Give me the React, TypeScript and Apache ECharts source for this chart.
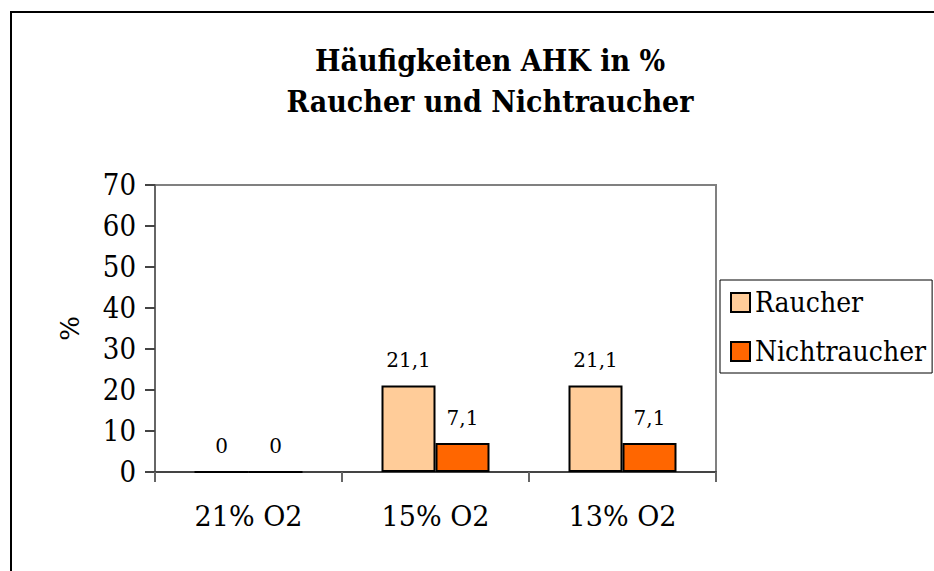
import React, { useEffect, useRef } from "react";
import * as echarts from "echarts";

const categories = ["21% O2", "15% O2", "13% O2"];
const raucher = [0, 21.1, 21.1];
const nichtraucher = [0, 7.1, 7.1];
const seriesNames = ["Raucher", "Nichtraucher"];
const titleText = "Häufigkeiten AHK in %\nRaucher und Nichtraucher";

const FONT = "DejaVu Serif Condensed";

export default function App() {
  const ref = useRef<HTMLDivElement>(null);
  useEffect(() => {
    if (!ref.current) return;
    const chart = echarts.init(ref.current, undefined, { renderer: "svg" });
    const labelCfg = {
      show: true,
      position: "top",
      distance: 15,
      fontFamily: "DejaVu Serif",
      fontSize: 20,
      color: "#000",
      formatter: (p: any) => String(p.value).replace(".", ","),
    };
    chart.setOption({
      animation: false,
      backgroundColor: "#fff",
      textStyle: { fontFamily: FONT },
      title: {
        text: titleText,
        left: 485,
        top: 35,
        textAlign: "center",
        textStyle: {
          fontFamily: FONT,
          fontSize: 30,
          fontWeight: "bold",
          color: "#000",
          lineHeight: 41,
        },
      },
      graphic: [
        {
          type: "rect",
          shape: { x: 11, y: 12, width: 1000, height: 1000 },
          style: { fill: "none", stroke: "#000", lineWidth: 2 },
          silent: true,
          z: 100,
        },
      ],
      legend: {
        orient: "vertical",
        left: 720,
        top: 280,
        padding: [7, 6, 6, 10],
        itemWidth: 19,
        itemHeight: 19,
        itemGap: 18,
        icon: "rect",
        borderColor: "#000",
        borderWidth: 1,
        textStyle: { fontFamily: FONT, fontSize: 28, color: "#000", lineHeight: 31, padding: [0, 0, 0, 0] },
        data: seriesNames,
      },
      grid: {
        left: 155,
        top: 185,
        right: 218,
        bottom: 99,
        show: true,
        borderColor: "#808080",
        borderWidth: 2,
      },
      xAxis: {
        type: "category",
        data: categories,
        axisLine: { show: true, lineStyle: { color: "#444", width: 2 } },
        axisTick: { show: true, length: 10, lineStyle: { color: "#666", width: 2 } },
        axisLabel: { fontFamily: "DejaVu Serif", fontSize: 27, color: "#000", margin: 31 },
        splitLine: { show: false },
      },
      yAxis: {
        type: "value",
        min: 0,
        max: 70,
        interval: 10,
        name: "%",
        nameLocation: "middle",
        nameRotate: 90,
        nameGap: 72,
        nameTextStyle: { fontFamily: "DejaVu Serif", fontSize: 26, color: "#000" },
        axisLine: { show: true, lineStyle: { color: "#666", width: 2 } },
        axisTick: { show: true, length: 10, lineStyle: { color: "#444", width: 2 } },
        axisLabel: { fontFamily: FONT, fontSize: 29, color: "#000", margin: 19 },
        splitLine: { show: false },
      },
      series: [
        {
          name: seriesNames[0],
          type: "bar",
          data: raucher,
          barWidth: 54,
          barGap: "0%",
          itemStyle: { color: "#FFCC99", borderColor: "#000", borderWidth: 2 },
          label: labelCfg,
        },
        {
          name: seriesNames[1],
          type: "bar",
          data: nichtraucher,
          barWidth: 54,
          barGap: "0%",
          itemStyle: { color: "#FF6600", borderColor: "#000", borderWidth: 2 },
          label: labelCfg,
        },
      ],
    });
    return () => chart.dispose();
  }, []);
  return (
    <div
      ref={ref}
      style={{ position: "fixed", left: 0, top: 0, width: 934, height: 571 }}
    />
  );
}
